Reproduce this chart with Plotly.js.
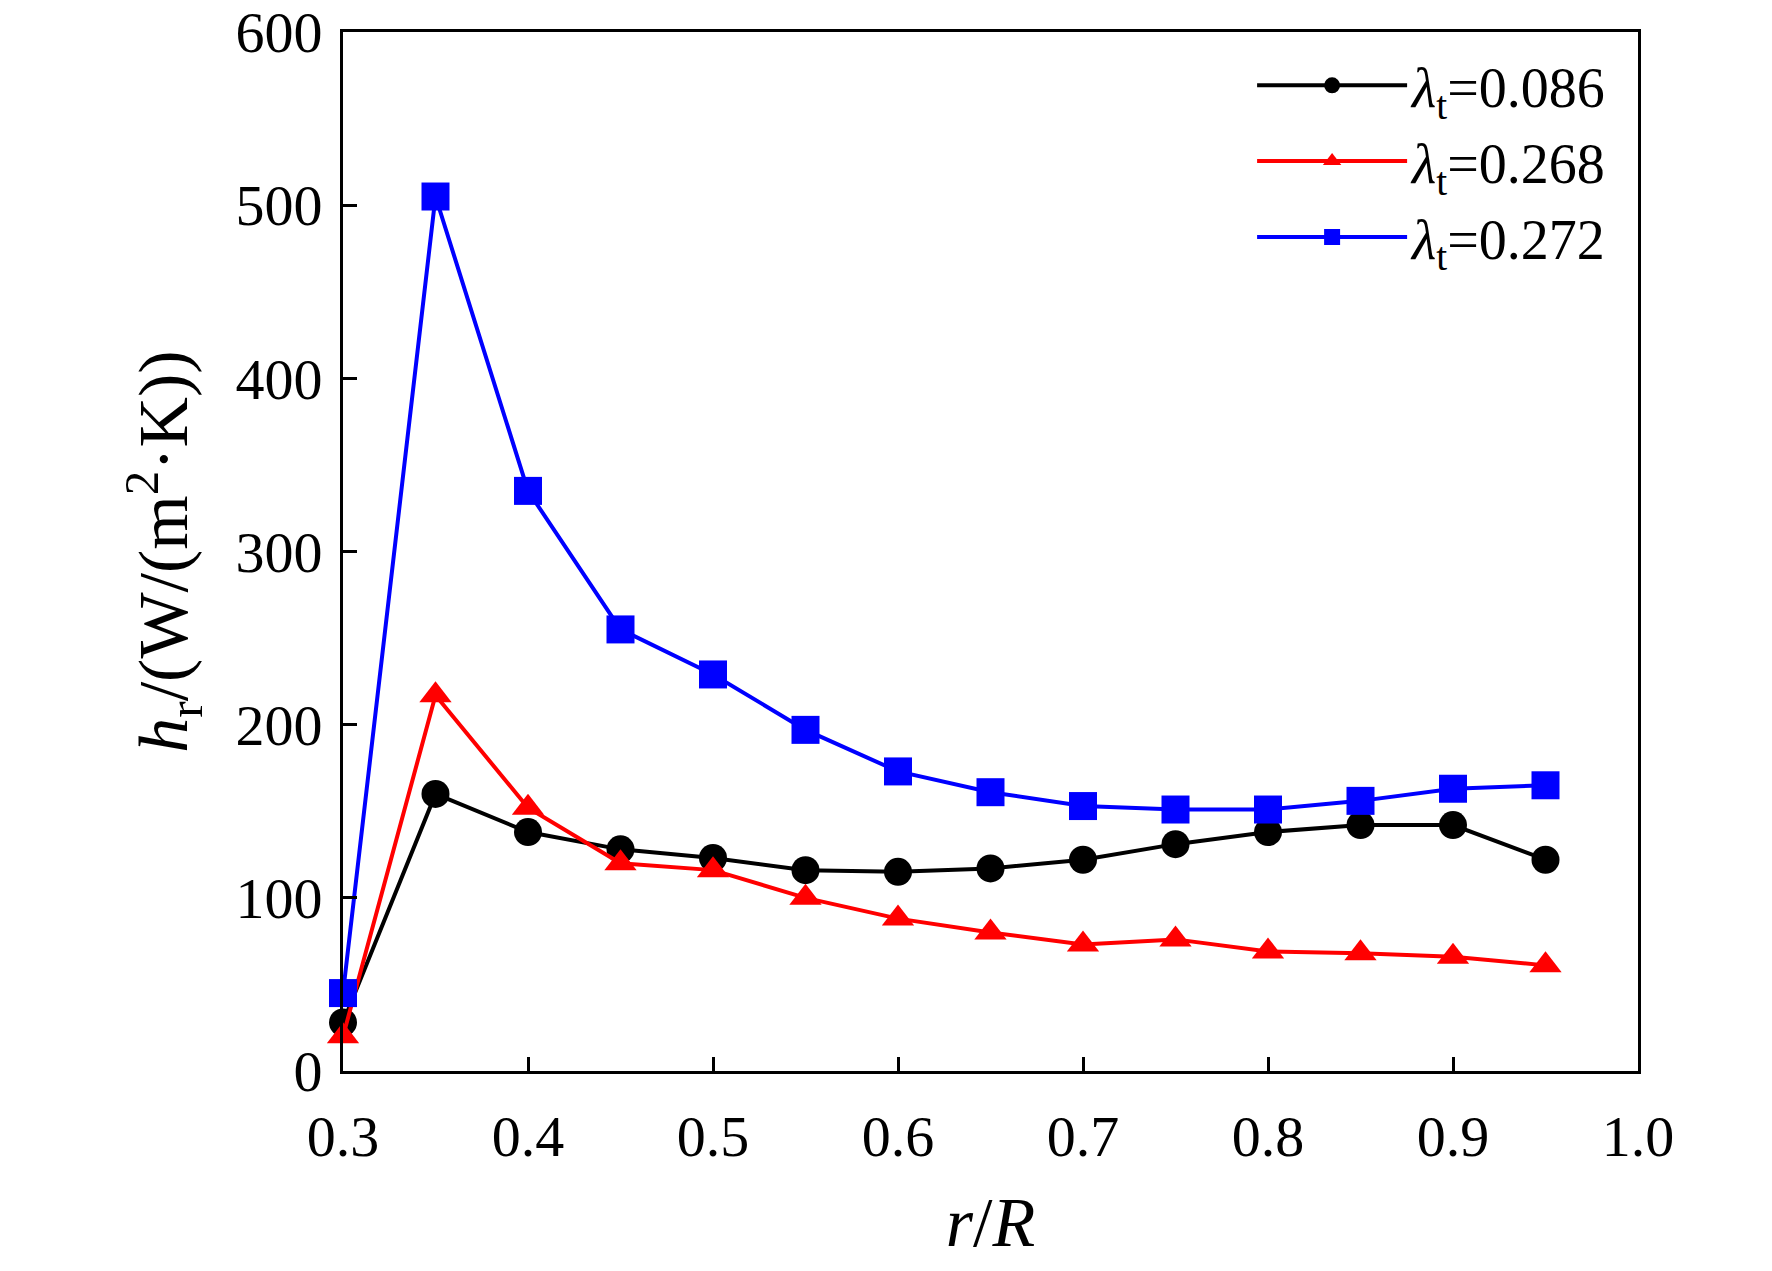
<!DOCTYPE html>
<html><head><meta charset="utf-8">
<script src="https://cdn.plot.ly/plotly-3.0.1.min.js"></script>
<style>body{margin:0;background:#fff}</style></head>
<body><div id="chart" style="width:1772px;height:1271px"></div>
<script>
var rR = [0.3,0.35,0.4,0.45,0.5,0.55,0.6,0.65,0.7,0.75,0.8,0.85,0.9,0.95];
var h086 = [28,160,138,128,123,116,115,117,122,131,138,142,142,122];
var h268 = [20,217,152,120,116,100,88,80,73,76,69,68,66,61];
var h272 = [45,505,335,255,229,197,173,161,153,151,151,156,163,165];

function trace(y, name, color, symbol) {
  return {x: rR, y: y, name: name, type: 'scatter', mode: 'lines+markers', cliponaxis: false,
    line: {color: color, width: 4}, marker: {color: color, symbol: symbol, size: 28}};
}
var data = [
  trace(h086, '<i>λ</i><sub>t</sub>=0.086', 'black', 'circle'),
  trace(h268, '<i>λ</i><sub>t</sub>=0.268', 'red', 'triangle-up'),
  trace(h272, '<i>λ</i><sub>t</sub>=0.272', 'blue', 'square')
];
var ax = {showgrid: false, zeroline: false, showline: true, linewidth: 3, linecolor: 'black',
  mirror: true, ticks: 'inside', ticklen: 14, tickwidth: 3, tickcolor: 'black'};
var layout = {
  width: 1772, height: 1271,
  margin: {l: 343, r: 134, t: 32, b: 200},
  font: {family: 'Liberation Serif, serif', size: 58, color: 'black'},
  paper_bgcolor: 'white', plot_bgcolor: 'white',
  xaxis: Object.assign({}, ax, {range: [0.3, 1.0], dtick: 0.1, tickformat: '.1f',
    ticklabelstandoff: 12, title: {text: '<i>r</i>/<i>R</i>', standoff: 30}}),
  yaxis: Object.assign({}, ax, {range: [0, 600], dtick: 100, ticklabelstandoff: 6,
    title: {text: '<i>h</i><sub>r</sub>/(W/(m<sup>2</sup>·K))', standoff: 25}}),
  legend: {x: 0.98, y: 0.99, xanchor: 'right', yanchor: 'top', bgcolor: 'rgba(0,0,0,0)',
    font: {size: 56}, itemwidth: 150, tracegroupgap: 0}
};
Plotly.newPlot('chart', data, layout, {displayModeBar: false});
</script></body></html>
